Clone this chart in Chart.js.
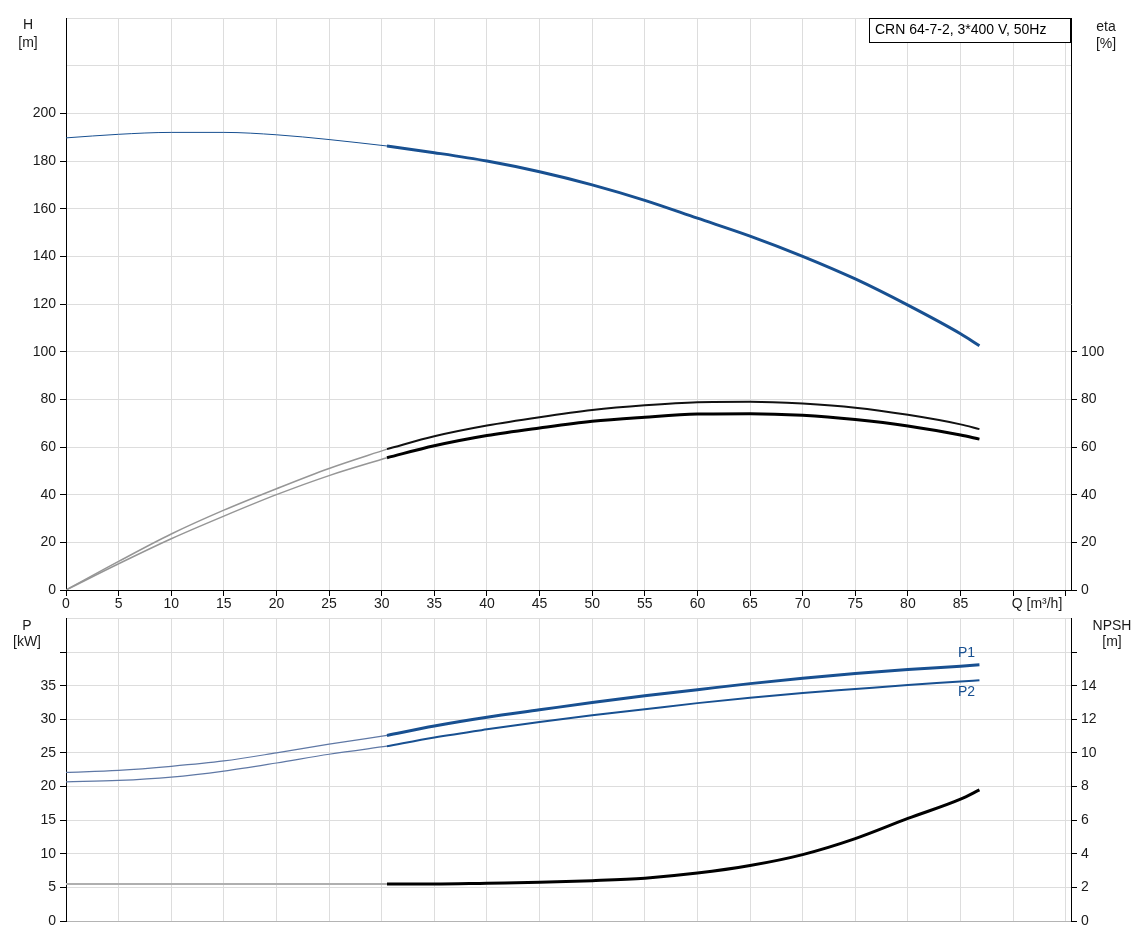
<!DOCTYPE html>
<html>
<head>
<meta charset="utf-8">
<script src="https://cdn.jsdelivr.net/npm/chart.js@4.4.1/dist/chart.umd.min.js"></script>
<style>
   html, body { margin: 0; padding: 0; background: #fff; }
   #wrap { position: relative; width: 1145px; height: 944px; }
   canvas { position: absolute; left: 0; }
   #topChart { top: 0; }
   #bottomChart { top: 606px; }
</style>
</head>
<body>
<div id="wrap">
   <canvas id="topChart" width="1145" height="612"></canvas>
   <canvas id="bottomChart" width="1145" height="338"></canvas>
</div>
<script>
// flow values, thin (outside operating range) and thick part
var qLow  = [0, 5, 10, 15, 20, 25, 30.5];
var qHigh = [30.5, 35, 40, 45, 50, 55, 60, 65, 70, 75, 80, 85, 86.8];

// head H [m]
var headLow  = [189.7, 191.2, 192, 192, 191, 189, 186.3];
var headHigh = [186.3, 183.5, 180, 175.5, 170, 163.5, 156, 148.5, 140, 130.5, 119.5, 107.5, 102.5];

// efficiency eta [%], upper and lower curve
var etaUpperLow  = [0, 12, 23.5, 33.5, 42.5, 51, 59.1];
var etaUpperHigh = [59.1, 64.5, 69, 72.5, 75.5, 77.5, 78.8, 79, 78.2, 76.5, 73.5, 69.5, 67.5];
var etaLowerLow  = [0, 11, 21.5, 31, 40, 48, 55.5];
var etaLowerHigh = [55.5, 60.5, 64.8, 68, 70.8, 72.5, 73.8, 74, 73.3, 71.5, 68.8, 65, 63.3];

// power P1 / P2 [kW]
var p1Low  = [22.1, 22.4, 23.0, 23.8, 25.0, 26.3, 27.6];
var p1High = [27.6, 29, 30.3, 31.4, 32.5, 33.5, 34.4, 35.3, 36.1, 36.8, 37.4, 37.9, 38.1];
var p2Low  = [20.7, 20.9, 21.4, 22.3, 23.5, 24.8, 26.0];
var p2High = [26.0, 27.3, 28.5, 29.6, 30.6, 31.5, 32.4, 33.2, 33.9, 34.5, 35.1, 35.6, 35.8];

// NPSH [m]
var npshLow  = [2.2, 2.2, 2.2, 2.2, 2.2, 2.2, 2.2];
var npshHigh = [2.2, 2.2, 2.25, 2.3, 2.4, 2.55, 2.85, 3.3, 3.95, 4.9, 6.1, 7.25, 7.8];

var titleText = 'CRN 64-7-2, 3*400 V, 50Hz';
var flowLabel = 'Q [m³/h]';

var FONT = 'Arial, "Liberation Sans", sans-serif';
var BLUE = 'rgb(24, 80, 145)';
var GRID = 'rgb(221, 221, 221)';
var TEXT = '#1a1a1a';

Chart.defaults.font.family = FONT;
Chart.defaults.font.size = 14;
Chart.defaults.color = TEXT;
Chart.defaults.animation = false;

var toPoints = function toPoints(qs, values) {
   return qs.map((q, i) => ({x: q, y: values[i]}));
};

var line = function line(qs, values, color, width, axis) {
   return {
      data: toPoints(qs, values),
      borderColor: color,
      borderWidth: width,
      pointRadius: 0,
      cubicInterpolationMode: 'monotone',
      fill: false,
      yAxisID: axis
   };
};

var fixWidth = function fixWidth(w) {
   return scale => { scale.width = w; };
};
var fixHeight = function fixHeight(h) {
   return scale => { scale.height = h; };
};

// tick mark only up to a given value
var tickUpTo = function tickUpTo(limit, color) {
   return ctx => (ctx.tick && ctx.tick.value > limit) ? 'rgba(0,0,0,0)' : color;
};
var labelUpTo = function labelUpTo(limit) {
   return value => value > limit ? '' : value;
};

var textPlugin = function textPlugin(draw) {
   return { id: 'texts', afterDraw: chart => {
      var c = chart.ctx;
      c.save();
      c.font = '14px ' + FONT;
      c.textBaseline = 'middle';
      draw(chart, c);
      c.restore();
   }};
};

var xScale = function xScale(showLabels, tickColor, borderColor, height) {
   return {
      type: 'linear',
      min: 0,
      max: 95.5,
      afterFit: fixHeight(height),
      border: { color: borderColor, width: 1 },
      grid: { color: GRID, tickColor: tickColor, tickLength: 6, drawTicks: showLabels },
      ticks: {
         stepSize: 5,
         includeBounds: false,
         maxRotation: 0,
         autoSkip: false,
         padding: 0,
         display: showLabels,
         callback: value => value >= 90 ? '' : value
      }
   };
};

new Chart(document.getElementById('topChart'), {
   type: 'line',
   data: {
      datasets: [
         line(qLow, headLow, BLUE, 1, 'h'),
         line(qLow, etaUpperLow, 'rgb(150,150,150)', 1.5, 'eta'),
         line(qLow, etaLowerLow, 'rgb(150,150,150)', 1.5, 'eta'),
         line(qHigh, headHigh, BLUE, 3, 'h'),
         line(qHigh, etaUpperHigh, '#111', 2, 'eta'),
         line(qHigh, etaLowerHigh, '#000', 3, 'eta')
      ]
   },
   options: {
      responsive: false,
      layout: { padding: { top: 18, left: 0, right: 0, bottom: 0 } },
      plugins: { legend: { display: false }, tooltip: { enabled: false } },
      scales: {
         x: xScale(true, '#000', '#000', 22),
         h: {
            position: 'left',
            min: 0,
            max: 240,
            afterFit: fixWidth(66),
            border: { color: '#000', width: 1 },
            grid: { color: GRID, tickColor: tickUpTo(200, '#000'), tickLength: 6 },
            ticks: { stepSize: 20, padding: 4, callback: labelUpTo(200) }
         },
         eta: {
            position: 'right',
            min: 0,
            max: 240,
            afterFit: fixWidth(74),
            border: { color: '#000', width: 1 },
            grid: { drawOnChartArea: false, tickColor: tickUpTo(100, '#000'), tickLength: 6 },
            ticks: { stepSize: 20, padding: 4, callback: labelUpTo(100) }
         }
      }
   },
   plugins: [textPlugin((chart, c) => {
      c.fillStyle = TEXT;
      c.textAlign = 'center';
      c.fillText('H', 28, 25);
      c.fillText('[m]', 28, 43);
      c.fillText('eta', 1106, 27);
      c.fillText('[%]', 1106, 44);
      c.fillText(flowLabel, 1037, 604);
      // type label box
      c.fillStyle = '#fff';
      c.fillRect(869.5, 18.5, 201, 24);
      c.strokeStyle = '#000';
      c.lineWidth = 1;
      c.strokeRect(869.5, 18.5, 201, 24);
      c.fillStyle = '#000';
      c.textAlign = 'left';
      c.fillText(titleText, 875, 30.5);
   })]
});

new Chart(document.getElementById('bottomChart'), {
   type: 'line',
   data: {
      datasets: [
         line(qLow, p1Low, 'rgb(95,120,165)', 1.2, 'p'),
         line(qLow, p2Low, 'rgb(95,120,165)', 1.2, 'p'),
         line(qLow, npshLow, 'rgb(175,175,175)', 2, 'npsh'),
         line(qHigh, p1High, BLUE, 3, 'p'),
         line(qHigh, p2High, BLUE, 2, 'p'),
         line(qHigh, npshHigh, '#000', 3, 'npsh')
      ]
   },
   options: {
      responsive: false,
      layout: { padding: { top: 12, left: 0, right: 0, bottom: 0 } },
      plugins: { legend: { display: false }, tooltip: { enabled: false } },
      scales: {
         x: xScale(false, 'rgba(0,0,0,0)', 'rgb(180,180,180)', 23),
         p: {
            position: 'left',
            min: 0,
            max: 45,
            afterFit: fixWidth(66),
            border: { color: '#000', width: 1 },
            grid: { color: GRID, tickColor: tickUpTo(40, '#000'), tickLength: 6 },
            ticks: { stepSize: 5, padding: 4, callback: labelUpTo(35) }
         },
         npsh: {
            position: 'right',
            min: 0,
            max: 18,
            afterFit: fixWidth(74),
            border: { color: '#000', width: 1 },
            grid: { drawOnChartArea: false, tickColor: tickUpTo(16, '#000'), tickLength: 6 },
            ticks: { stepSize: 2, padding: 4, callback: labelUpTo(14) }
         }
      }
   },
   plugins: [textPlugin((chart, c) => {
      c.fillStyle = TEXT;
      c.textAlign = 'center';
      c.fillText('P', 27, 20);
      c.fillText('[kW]', 27, 36);
      c.fillText('NPSH', 1112, 20);
      c.fillText('[m]', 1112, 36);
      var xs = chart.scales.x;
      var ps = chart.scales.p;
      var lastQ = qHigh[qHigh.length - 1];
      c.fillStyle = BLUE;
      c.fillText('P1', xs.getPixelForValue(lastQ) - 13, ps.getPixelForValue(p1High[p1High.length - 1]) - 12);
      c.fillText('P2', xs.getPixelForValue(lastQ) - 13, ps.getPixelForValue(p2High[p2High.length - 1]) + 12);
   })]
});
</script>
</body>
</html>
